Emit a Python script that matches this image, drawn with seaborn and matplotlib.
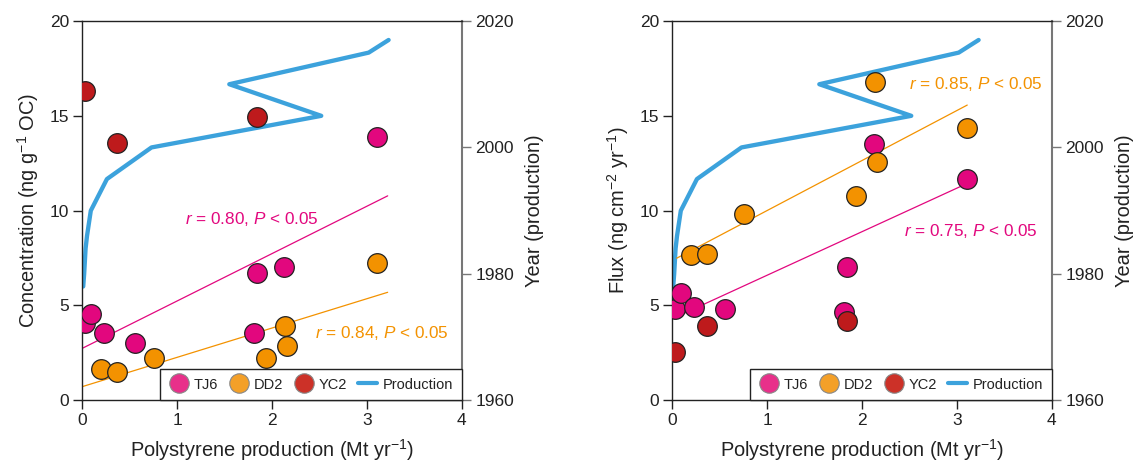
import numpy as np
import pandas as pd
import matplotlib
matplotlib.use("Agg")
import matplotlib.pyplot as plt
from matplotlib.lines import Line2D
import seaborn as sns

# ---------------- data ----------------
prod_year = [1978, 1980, 1984, 1986, 1990, 1995, 2000, 2005, 2010, 2015, 2017]
prod_mt = [0.01, 0.02, 0.035, 0.05, 0.09, 0.26, 0.73, 2.52, 1.55, 3.02, 3.23]

tj6_x_conc = [0.03, 0.09, 0.225, 0.555, 1.81, 1.84, 2.13, 3.11]
tj6_conc = [4.09, 4.55, 3.57, 3.00, 3.53, 6.70, 7.05, 13.9]
dd2_x_conc = [0.197, 0.362, 0.752, 1.933, 2.137, 2.158, 3.11]
dd2_conc = [1.63, 1.48, 2.21, 2.21, 3.92, 2.86, 7.26]
yc2_x_conc = [0.025, 0.362, 1.842]
yc2_conc = [16.33, 13.59, 14.96]

tj6_x_flux = [0.03, 0.095, 0.23, 0.56, 1.81, 1.845, 2.13, 3.11]
tj6_flux = [4.80, 5.64, 4.90, 4.80, 4.66, 7.05, 13.51, 11.67]
dd2_x_flux = [0.197, 0.362, 0.752, 1.933, 2.137, 2.158, 3.11]
dd2_flux = [7.66, 7.72, 9.81, 10.77, 16.77, 12.55, 14.36]
yc2_x_flux = [0.028, 0.362, 1.845]
yc2_flux = [2.57, 3.92, 4.20]

# regression fits: slope, intercept, x-range
fit_conc_tj6 = [2.497, 2.74, 0.0, 3.22]
fit_conc_dd2 = [1.545, 0.72, 0.0, 3.22]
fit_flux_tj6 = [2.295, 4.30, 0.03, 3.11]
fit_flux_dd2 = [2.636, 7.37, 0.046, 3.11]

labels_conc = ["r = 0.80", "r = 0.84"]
labels_flux = ["r = 0.75", "r = 0.85"]

# ---------------- style ----------------
sns.set_theme(style="ticks")
plt.rcParams["font.family"] = ["Liberation Sans", "DejaVu Sans"]
plt.rcParams["mathtext.fontset"] = "custom"
plt.rcParams["mathtext.rm"] = "Liberation Sans"
plt.rcParams["mathtext.it"] = "Liberation Sans:italic"
plt.rcParams["text.color"] = "#222222"
plt.rcParams["axes.labelcolor"] = "#222222"
plt.rcParams["xtick.color"] = "#222222"
plt.rcParams["ytick.color"] = "#222222"

C_TJ6 = "#E2077E"
C_DD2 = "#F39200"
C_YC2 = "#BE1A1C"
C_PROD = "#3CA2DC"
L_TJ6 = "#E8308A"
L_DD2 = "#F4A028"
L_YC2 = "#CC3128"

fig = plt.figure(figsize=(11.41, 4.70), dpi=100)
axL = fig.add_axes([0.0721, 0.1483, 0.3325, 0.807])
axR = fig.add_axes([0.5892, 0.1483, 0.3325, 0.807])


def panel(ax, tx, ty, dx, dy, yx, yy, ftj, fdd, ylabel, txt_tj, txt_dd, pos_tj, pos_dd):
    # regression lines
    for f, c in [(ftj, C_TJ6), (fdd, C_DD2)]:
        xs = np.array([f[2], f[3]])
        df = pd.DataFrame({"x": xs, "y": f[0] * xs + f[1]})
        sns.lineplot(data=df, x="x", y="y", ax=ax, color=c, lw=0.9, zorder=2)
    for xs, ys, c in [(tx, ty, C_TJ6), (dx, dy, C_DD2), (yx, yy, C_YC2)]:
        df = pd.DataFrame({"x": xs, "y": ys})
        sns.scatterplot(data=df, x="x", y="y", ax=ax, color=c, s=200,
                        edgecolor="#222222", linewidth=0.9, zorder=3)
    ax.set_xlim(0, 4)
    ax.set_ylim(0, 20)
    ax.set_xticks([0, 1, 2, 3, 4])
    ax.set_yticks([0, 5, 10, 15, 20])
    ax.tick_params(axis="both", direction="out", length=6.5, width=1.0, labelsize=12.5, pad=3)
    ax.set_xlabel("Polystyrene production (Mt yr$^{-1}$)", fontsize=14.4, labelpad=6)
    ax.set_ylabel(ylabel, fontsize=14.4, labelpad=6)
    for s in ["left", "top", "bottom"]:
        ax.spines[s].set_visible(True)
        ax.spines[s].set_color("#222222")
        ax.spines[s].set_linewidth(1.0)
    ax.spines["right"].set_visible(False)

    r_tj, r_dd = txt_tj.split(" = ")[1], txt_dd.split(" = ")[1]
    ax.text(pos_tj[0], pos_tj[1], f"$r$ = {r_tj}, $P$ < 0.05", color=C_TJ6,
            fontsize=12.3, va="center", ha="left")
    ax.text(pos_dd[0], pos_dd[1], f"$r$ = {r_dd}, $P$ < 0.05", color=C_DD2,
            fontsize=12.3, va="center", ha="left")

    ax2 = ax.twinx()
    dfp = pd.DataFrame({"mt": prod_mt, "year": prod_year})
    sns.lineplot(data=dfp, x="mt", y="year", sort=False, ax=ax2, color=C_PROD,
                 lw=3.1, estimator=None)
    ax2.set_ylim(1960, 2020)
    ax2.set_yticks([1960, 1980, 2000, 2020])
    ax2.set_ylabel("Year (production)", fontsize=14.4, labelpad=8)
    ax2.tick_params(axis="y", direction="out", length=6.5, width=1.0, labelsize=12.5,
                    colors="#222222")
    ax2.tick_params(axis="y", color="#777777")
    for s in ["left", "top", "bottom"]:
        ax2.spines[s].set_visible(False)
    ax2.spines["right"].set_visible(True)
    ax2.spines["right"].set_color("#777777")
    ax2.spines["right"].set_linewidth(1.5)
    ax2.set_xlim(0, 4)
    ax2.set_xlabel("")

    ax.set_zorder(ax2.get_zorder() + 1)
    ax.patch.set_visible(False)

    handles = [
        Line2D([], [], ls="none", marker="o", ms=14, mfc=L_TJ6, mec="#888888", mew=0.8),
        Line2D([], [], ls="none", marker="o", ms=14, mfc=L_DD2, mec="#888888", mew=0.8),
        Line2D([], [], ls="none", marker="o", ms=14, mfc=L_YC2, mec="#888888", mew=0.8),
        Line2D([], [], color=C_PROD, lw=3.0),
    ]
    leg = ax.legend(handles, ["TJ6", "DD2", "YC2", "Production"], loc="lower right",
                    bbox_to_anchor=(1.0, 0.0), borderaxespad=0, ncol=4, fontsize=10.5,
                    frameon=True, fancybox=False, edgecolor="#222222",
                    handlelength=1.3, handletextpad=0.35, columnspacing=0.8,
                    borderpad=0.6)
    leg.get_frame().set_linewidth(1.0)
    leg.get_frame().set_facecolor("white")
    leg.get_frame().set_alpha(1.0)


panel(axL, tj6_x_conc, tj6_conc, dd2_x_conc, dd2_conc, yc2_x_conc, yc2_conc,
      fit_conc_tj6, fit_conc_dd2, "Concentration (ng g$^{-1}$ OC)",
      labels_conc[0], labels_conc[1], (1.08, 9.54), (2.45, 3.57))
panel(axR, tj6_x_flux, tj6_flux, dd2_x_flux, dd2_flux, yc2_x_flux, yc2_flux,
      fit_flux_tj6, fit_flux_dd2, "Flux (ng cm$^{-2}$ yr$^{-1}$)",
      labels_flux[0], labels_flux[1], (2.44, 8.95), (2.50, 16.68))

fig.savefig("out.png", dpi=100, facecolor="white")
